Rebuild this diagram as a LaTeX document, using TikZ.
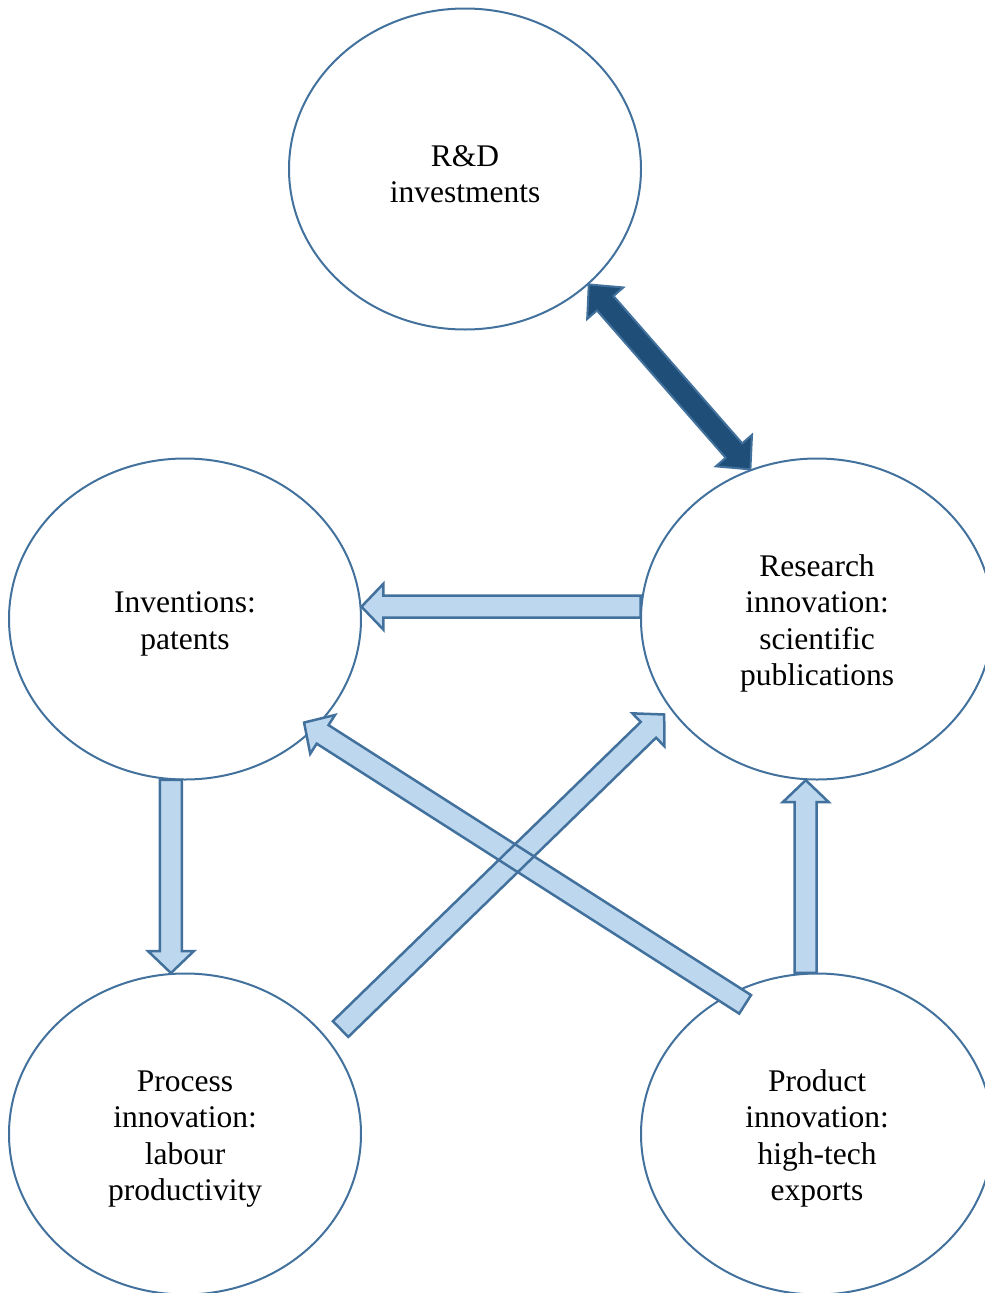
\documentclass[tikz,border=0pt]{standalone}
\usepackage{fontspec}
\setmainfont{Liberation Serif}
\usetikzlibrary{calc,shapes.geometric}
\definecolor{edgeblue}{HTML}{41719C}
\definecolor{lightfill}{HTML}{BDD7EE}
\definecolor{darkfill}{HTML}{1F4E79}
\newcommand{\tstrut}{\rule{0pt}{31pt}}
\tikzset{
 bubble/.style={ellipse, draw=edgeblue, line width=2pt, minimum width=352pt, minimum height=321pt, inner sep=0pt, align=center, font=\fontsize{31.5}{36.5}\selectfont},
 arrowfill/.style={fill=lightfill},
 arrowline/.style={draw=edgeblue, line width=2.5pt, line join=miter},
 darkarrow/.style={draw=edgeblue, fill=darkfill, line width=2pt, line join=miter},
}
% #1 style, #2 from, #3 to
\newcommand{\blockarrow}[3]{%
 \coordinate (bhA) at ($(#3)!22pt!(#2)$);
 \path[#1] ($(#2)!11pt!90:(#3)$) -- ($(bhA)!11pt!90:(#3)$) -- ($(bhA)!23pt!90:(#3)$) -- (#3)
   -- ($(bhA)!23pt!-90:(#3)$) -- ($(bhA)!11pt!-90:(#3)$) -- ($(#2)!11pt!-90:(#3)$) -- cycle;
}
\newcommand{\doubleblockarrow}[3]{%
 \coordinate (bhA) at ($(#3)!25pt!(#2)$);
 \coordinate (bhB) at ($(#2)!25pt!(#3)$);
 \path[#1] (#2) -- ($(bhB)!24pt!90:(#3)$) -- ($(bhB)!11pt!90:(#3)$) -- ($(bhA)!11pt!90:(#3)$)
   -- ($(bhA)!24pt!90:(#3)$) -- (#3) -- ($(bhA)!24pt!-90:(#3)$) -- ($(bhA)!11pt!-90:(#3)$)
   -- ($(bhB)!11pt!-90:(#3)$) -- ($(bhB)!24pt!-90:(#3)$) -- cycle;
}
\begin{document}
\begin{tikzpicture}[x=1pt,y=-1pt]
\useasboundingbox (0,0) rectangle (985,1293);
\clip (0,0) rectangle (985,1293);
\node[bubble] (rd) at (465,169) {\tstrut R\&D\\investments};
\node[bubble] (inv) at (185,619) {\tstrut Inventions:\\patents};
\node[bubble] (res) at (817,619) {\tstrut Research\\innovation:\\scientific\\publications};
\node[bubble] (proc) at (185,1134) {\tstrut Process\\innovation:\\labour\\productivity};
\node[bubble] (prod) at (817,1134) {\tstrut Product\\innovation:\\high-tech\\exports};

% end points
\coordinate (pr1) at ($(proc.34)!-16pt!(proc.center)$);
\coordinate (pr2) at ($(res.212)!-8pt!(res.center)$);
\coordinate (pi1) at ($(prod.119)!16.5pt!(prod.center)$);
\coordinate (pi2) at ($(inv.319)!12pt!(inv.center)$);

% double arrow
\doubleblockarrow{darkarrow}{rd.317}{res.114}

% straight arrows
\blockarrow{arrowfill,arrowline}{res.176}{inv.4}
\blockarrow{arrowfill,arrowline}{inv.265}{proc.95}
\blockarrow{arrowfill,arrowline}{prod.94}{res.266}

% crossing arrows: fills first, outlines on top
\blockarrow{arrowfill}{pr1}{pr2}
\blockarrow{arrowfill}{pi1}{pi2}
\blockarrow{arrowline}{pr1}{pr2}
\blockarrow{arrowline}{pi1}{pi2}
\end{tikzpicture}
\end{document}
